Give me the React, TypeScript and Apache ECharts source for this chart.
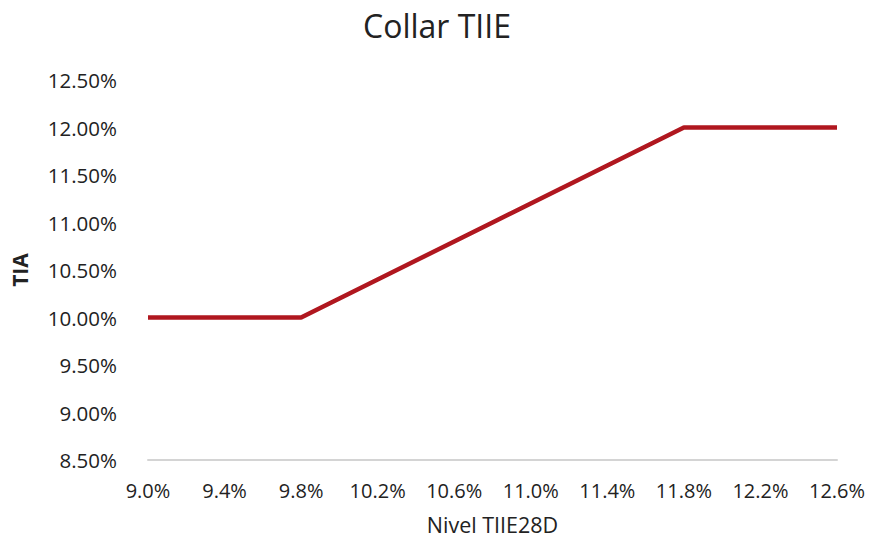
import React, { useEffect, useRef } from "react";
import * as echarts from "echarts";

const categories: string[] = [
  "9.0%", "9.1%", "9.2%", "9.3%", "9.4%", "9.5%", "9.6%", "9.7%", "9.8%", "9.9%",
  "10.0%", "10.1%", "10.2%", "10.3%", "10.4%", "10.5%", "10.6%", "10.7%", "10.8%", "10.9%",
  "11.0%", "11.1%", "11.2%", "11.3%", "11.4%", "11.5%", "11.6%", "11.7%", "11.8%", "11.9%",
  "12.0%", "12.1%", "12.2%", "12.3%", "12.4%", "12.5%", "12.6%",
];

const tiaValues: number[] = [
  10.0, 10.0, 10.0, 10.0, 10.0, 10.0, 10.0, 10.0, 10.0, 10.1,
  10.2, 10.3, 10.4, 10.5, 10.6, 10.7, 10.8, 10.9, 11.0, 11.1,
  11.2, 11.3, 11.4, 11.5, 11.6, 11.7, 11.8, 11.9, 12.0, 12.0,
  12.0, 12.0, 12.0, 12.0, 12.0, 12.0, 12.0,
];

const FONT = "'Open Sans', 'Noto Sans', sans-serif";

export default function App() {
  const ref = useRef<HTMLDivElement>(null);
  useEffect(() => {
    if (!ref.current) return;
    const chart = echarts.init(ref.current, undefined, { renderer: "svg" });
    chart.setOption({
      animation: false,
      backgroundColor: "#ffffff",
      title: {
        text: "Collar TIIE",
        left: 432,
        textAlign: "center",
        top: 4,
        textStyle: { fontFamily: FONT, fontSize: 32, fontWeight: "normal", color: "#222222" },
      },
      grid: { left: 148, right: 33, top: 80, bottom: 81, containLabel: false },
      xAxis: {
        type: "category",
        data: categories,
        boundaryGap: false,
        name: "Nivel TIIE28D",
        nameLocation: "middle",
        nameGap: 53,
        nameTextStyle: { fontFamily: FONT, fontSize: 21.5, color: "#222222" },
        axisLine: { show: true, lineStyle: { color: "#d4d4d4", width: 2 } },
        axisTick: { show: false },
        axisLabel: {
          interval: 3,
          margin: 20,
          fontFamily: FONT,
          fontSize: 20,
          color: "#222222",
        },
        splitLine: { show: false },
      },
      yAxis: {
        type: "value",
        min: 8.5,
        max: 12.5,
        interval: 0.5,
        name: "TIA",
        nameLocation: "middle",
        nameGap: 118,
        nameTextStyle: { fontFamily: FONT, fontSize: 21, fontWeight: "bold", color: "#222222" },
        axisLine: { show: false },
        axisTick: { show: false },
        splitLine: { show: false },
        axisLabel: {
          margin: 31,
          fontFamily: FONT,
          fontSize: 20.5,
          color: "#222222",
          formatter: (v: number) => v.toFixed(2) + "%",
        },
      },
      series: [
        {
          type: "line",
          data: tiaValues,
          showSymbol: false,
          lineStyle: { color: "#B0171F", width: 4.5 },
        },
      ],
    });
    return () => chart.dispose();
  }, []);
  return <div ref={ref} style={{ width: 870, height: 541, position: "absolute", left: 0, top: 0 }} />;
}
